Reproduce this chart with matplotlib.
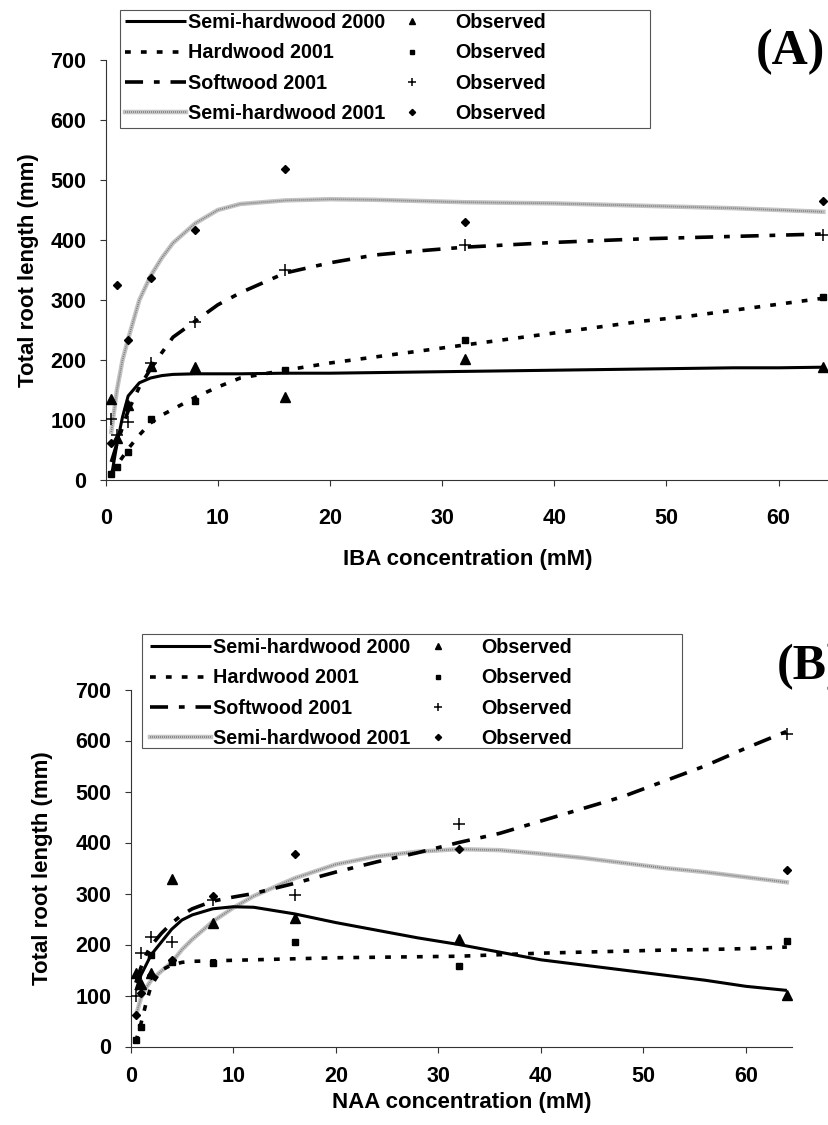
import numpy as np
import matplotlib
matplotlib.use('Agg')
import matplotlib.pyplot as plt
from matplotlib.patches import Rectangle

plt.rcParams['font.family'] = ['Liberation Sans', 'DejaVu Sans']
plt.rcParams['font.weight'] = 'bold'

# series names
series_names = ['Semi-hardwood 2000', 'Hardwood 2001', 'Softwood 2001', 'Semi-hardwood 2001']

# concentrations of the observed points (mM)
conc = [0.5, 1, 2, 4, 8, 16, 32, 64]

# (A) IBA - observed root length (mm)
iba_obs_sh2000 = [135, 70, 125, 190, 188, 138, 202, 188]
iba_obs_hw2001 = [10, 22, 47, 102, 132, 183, 233, 305]
iba_obs_sw2001 = [101, 75, 97, 195, 264, 350, 392, 408]
iba_obs_sh2001 = [62, 325, 233, 336, 416, 518, 430, 465]

# x values where the fitted curves were read
fit_x = [0.5, 1, 1.5, 2, 3, 4, 5, 6, 8, 10, 12, 16, 20, 24, 28, 32, 36, 40, 44, 48, 52, 56, 60, 64]

# (A) IBA - fitted curves
iba_fit_sh2000 = [5, 60, 105, 140, 162, 170, 174, 176, 177, 177, 177, 178, 178, 179, 180, 181, 182, 183, 184, 185, 186, 187, 187, 188]
iba_fit_hw2001 = [12, 25, 38, 52, 75, 95, 108, 118, 138, 155, 170, 183, 195, 205, 215, 225, 235, 245, 255, 265, 273, 283, 293, 303]
iba_fit_sw2001 = [30, 60, 88, 115, 155, 185, 212, 238, 265, 292, 312, 345, 362, 375, 382, 388, 392, 396, 399, 402, 404, 406, 408, 410]
iba_fit_sh2001 = [80, 150, 200, 235, 300, 340, 370, 395, 428, 450, 460, 466, 468, 467, 465, 463, 462, 461, 459, 457, 455, 453, 450, 447]

# (B) NAA - observed root length (mm)
naa_obs_sh2000 = [145, 123, 145, 328, 243, 252, 211, 101]
naa_obs_hw2001 = [12, 38, 179, 165, 164, 205, 158, 207]
naa_obs_sw2001 = [100, 183, 215, 205, 288, 297, 437, 612]
naa_obs_sh2001 = [62, 105, 140, 170, 296, 378, 388, 346]

# (B) NAA - fitted curves
naa_fit_sh2000 = [110, 140, 160, 180, 205, 230, 248, 258, 270, 274, 273, 260, 243, 228, 213, 200, 185, 170, 160, 150, 140, 130, 118, 110]
naa_fit_hw2001 = [10, 45, 85, 120, 150, 160, 165, 167, 168, 169, 170, 172, 174, 175, 176, 177, 180, 183, 185, 187, 189, 190, 192, 195]
naa_fit_sw2001 = [125, 155, 180, 198, 222, 242, 258, 270, 285, 293, 300, 320, 342, 362, 380, 400, 418, 442, 466, 490, 520, 550, 585, 618]
naa_fit_sh2001 = [60, 95, 115, 130, 148, 165, 190, 210, 245, 272, 295, 330, 357, 373, 382, 387, 385, 378, 370, 360, 350, 342, 332, 322]

yticks = [0, 100, 200, 300, 400, 500, 600, 700]
xticks = [0, 10, 20, 30, 40, 50, 60]

W, H = 829, 1125
fig = plt.figure(figsize=(W / 100, H / 100), dpi=100)


def px_rect(left, top, right, bottom):
    return [left / W, 1 - bottom / H, (right - left) / W, (bottom - top) / H]


def draw_panel(rect, fits, obs, xlabel, tag, tag_xy, box, leg1_xy, leg2_xy, ylab_x, xlab_y, xpad):
    ax = fig.add_axes(px_rect(*rect))
    ax.set_xlim(0, 64.5)
    ax.set_ylim(0, 700)
    for s in ['top', 'right']:
        ax.spines[s].set_visible(False)
    for s in ['left', 'bottom']:
        ax.spines[s].set_color('#333333')
        ax.spines[s].set_linewidth(0.8)
    ax.set_xticks(xticks)
    ax.set_yticks(yticks)
    ax.tick_params(axis='both', direction='out', length=4, width=0.8, color='#333333', labelsize=15.5)
    ax.tick_params(axis='y', pad=10)
    ax.tick_params(axis='x', pad=xpad)
    for lab in ax.get_xticklabels() + ax.get_yticklabels():
        lab.set_fontweight('bold')

    # fitted curves
    l1, = ax.plot(fit_x, fits[0], color='black', lw=2.2, solid_capstyle='butt', zorder=3)
    l2, = ax.plot(fit_x, fits[1], color='black', lw=2.6, dashes=(1.6, 2.8), zorder=3)
    l3, = ax.plot(fit_x, fits[2], color='black', lw=2.6, dashes=(5, 3, 1.6, 3), zorder=3)
    l4a, = ax.plot(fit_x, fits[3], color='#c4c4c4', lw=3.2, zorder=2)
    l4b, = ax.plot(fit_x, fits[3], color='#808080', lw=1.2, dashes=(0.6, 0.6), zorder=2)

    # observed points
    m1, = ax.plot(conc, obs[0], ls='none', marker='^', ms=6.5, color='black', zorder=4)
    m2, = ax.plot(conc, obs[1], ls='none', marker='s', ms=4.8, color='black', zorder=4)
    m3, = ax.plot(conc, obs[2], ls='none', marker='+', ms=8.5, mew=1.1, color='black', zorder=4)
    m4, = ax.plot(conc, obs[3], ls='none', marker='D', ms=4.5, color='black', zorder=4)

    ax.set_xlabel(xlabel, fontsize=16, fontweight='bold')
    ax.set_ylabel('Total root length (mm)', fontsize=16, fontweight='bold')
    ax.yaxis.set_label_coords(ylab_x, 0.5)
    ax.xaxis.set_label_coords(0.5, xlab_y)

    leg_kw = dict(loc='upper left', frameon=False, fontsize=14.2, borderpad=0,
                  borderaxespad=0, labelspacing=0.58, bbox_transform=fig.transFigure)
    fig.legend([l1, l2, l3, (l4a, l4b)], series_names,
               bbox_to_anchor=(leg1_xy[0] / W, 1 - leg1_xy[1] / H),
               handlelength=3.1, handletextpad=0.1, **leg_kw)
    fig.legend([m1, m2, m3, m4], ['Observed'] * 4,
               bbox_to_anchor=(leg2_xy[0] / W, 1 - leg2_xy[1] / H),
               handlelength=1.0, handletextpad=1.7, markerscale=0.7, **leg_kw)
    bl, bt, br, bb = box
    fig.add_artist(Rectangle((bl / W, 1 - bb / H), (br - bl) / W, (bb - bt) / H,
                             transform=fig.transFigure, fill=False, ec='#555555', lw=0.8))

    fig.text(tag_xy[0] / W, 1 - tag_xy[1] / H, tag, fontsize=36, fontweight='bold',
             family='Liberation Serif', ha='left', va='center')
    return ax


draw_panel((105.7, 60, 829, 480),
           [iba_fit_sh2000, iba_fit_hw2001, iba_fit_sw2001, iba_fit_sh2001],
           [iba_obs_sh2000, iba_obs_hw2001, iba_obs_sw2001, iba_obs_sh2001],
           'IBA concentration (mM)', '(A)', (756, 52),
           (120, 10, 650, 128), (125, 13), (402, 13), -0.092, -0.165, 16)

draw_panel((130.7, 689.5, 792, 1046.5),
           [naa_fit_sh2000, naa_fit_hw2001, naa_fit_sw2001, naa_fit_sh2001],
           [naa_obs_sh2000, naa_obs_hw2001, naa_obs_sw2001, naa_obs_sh2001],
           'NAA concentration (mM)', '(B)', (777, 667),
           (142, 634, 682, 748), (150, 638), (428, 638), -0.118, -0.128, 10)

fig.savefig('out.png', dpi=100)
